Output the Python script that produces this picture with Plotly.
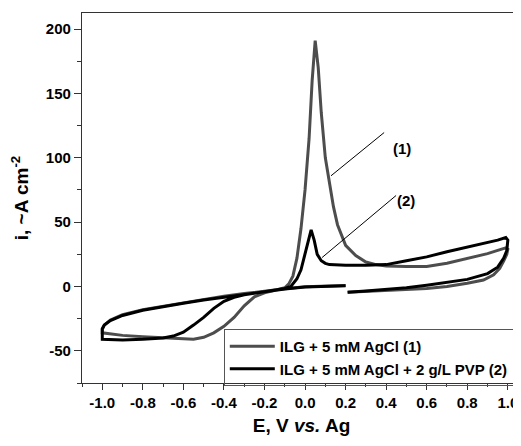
import plotly.graph_objects as go

# Curve (1): ILG + 5 mM AgCl  (potential E in V, current density i)
E1 = [0.20, 0.10, 0.0, -0.1, -0.2, -0.3, -0.4, -0.5, -0.6, -0.7, -0.8, -0.9, -0.96, -0.99, -1.0,
      -1.0, -0.95, -0.9, -0.8, -0.7, -0.6, -0.55, -0.5, -0.45, -0.4, -0.35, -0.3, -0.25, -0.2, -0.15,
      -0.1, -0.08, -0.06, -0.04, -0.02, 0.0, 0.02, 0.035, 0.05, 0.065, 0.08, 0.1, 0.12, 0.14, 0.16,
      0.2, 0.25, 0.3, 0.35, 0.4, 0.5, 0.6, 0.7, 0.8, 0.9, 0.95, 0.99, 1.0, 0.995, 0.98, 0.96, 0.93,
      0.88, 0.8, 0.7, 0.6, 0.5, 0.4, 0.3, 0.21]
I1 = [0.8, 0.3, -0.3, -1.8, -3.5, -5.5, -7.5, -10, -12.5, -15, -18, -22, -26, -30, -33,
      -36, -37, -38, -39, -40, -41, -41, -39.5, -36, -31, -24, -15, -8, -5, -3,
      -1, 2, 8, 22, 45, 75, 115, 160, 191, 170, 135, 100, 80, 62, 48,
      32, 24, 19, 17, 16, 15.5, 15.5, 18, 21.5, 25.5, 28, 30, 29, 25, 20, 14, 9,
      5, 2.5, 0, -1.5, -2.3, -3, -3.8, -4.5]

# Curve (2): ILG + 5 mM AgCl + 2 g/L PVP
E2 = [0.20, 0.10, 0.0, -0.1, -0.2, -0.3, -0.4, -0.5, -0.6, -0.7, -0.8, -0.9, -0.96, -0.99, -1.0,
      -1.0, -0.95, -0.9, -0.8, -0.7, -0.65, -0.6, -0.55, -0.5, -0.45, -0.4, -0.35, -0.3, -0.2, -0.15,
      -0.1, -0.07, -0.04, -0.02, 0.0, 0.015, 0.03, 0.045, 0.06, 0.08, 0.1, 0.12, 0.2, 0.3, 0.4,
      0.5, 0.6, 0.7, 0.8, 0.9, 0.95, 0.99, 1.0, 0.995, 0.98, 0.95, 0.9, 0.8, 0.7, 0.6, 0.5, 0.4, 0.3, 0.21]
I2 = [0.5, 0, -0.5, -2, -4, -6, -8, -10.5, -13, -15.5, -18.5, -22.5, -26.5, -30, -33,
      -41, -41.5, -41.5, -41, -40, -38.5, -35.5, -30, -24, -17, -11.5, -8.5, -6.5, -4, -2.8,
      -1.5, 0, 6, 13, 25, 36, 44, 36, 25, 20, 18, 17, 16.5, 16.5, 17,
      20, 23, 27, 30.5, 34, 36, 38, 36, 28, 22, 15, 10, 5.5, 3, 1, -1, -2.5, -3.5, -4.5]

NAMES = ["ILG + 5 mM AgCl (1)", "ILG + 5 mM AgCl + 2 g/L PVP (2)"]
X_TICKS = [-1.0, -0.8, -0.6, -0.4, -0.2, 0.0, 0.2, 0.4, 0.6, 0.8, 1.0]
X_LABELS = ["-1.0", "-0.8", "-0.6", "-0.4", "-0.2", "0.0", "0.2", "0.4", "0.6", "0.8", "1.0"]
Y_TICKS = [-50, 0, 50, 100, 150, 200]

# Leader lines for curve labels: (x0, y0, x1, y1) and label positions
LEAD1 = (0.128, 86, 0.39, 119.6)
LEAD2 = (0.084, 22.5, 0.449, 70.7)
LAB1 = (0.48, 107, "(1)")
LAB2 = (0.50, 67, "(2)")

FONT = "Liberation Sans, Arial, sans-serif"

fig = go.Figure()
fig.add_trace(go.Scatter(x=E1, y=I1, mode="lines", name="<b>%s</b>" % NAMES[0],
                         line=dict(color="#4d4d4d", width=3)))
fig.add_trace(go.Scatter(x=E2, y=I2, mode="lines", name="<b>%s</b>" % NAMES[1],
                         line=dict(color="#000000", width=3)))

for (x0, y0, x1, y1) in (LEAD1, LEAD2):
    fig.add_shape(type="line", x0=x0, y0=y0, x1=x1, y1=y1, xref="x", yref="y",
                  line=dict(color="black", width=1))
for (x, y, t) in (LAB1, LAB2):
    fig.add_annotation(x=x, y=y, text="<b>%s</b>" % t, showarrow=False,
                       font=dict(family=FONT, size=15, color="black"))

# The page body has an 8 px default margin, so the figure is sized to fill the
# remaining 513 x 438 area of the 521 x 446 window.
fig.update_layout(
    width=513, height=438,
    margin=dict(l=74, r=0, t=5, b=63, autoexpand=False),
    plot_bgcolor="white", paper_bgcolor="white",
    font=dict(family=FONT, color="black"),
    showlegend=True,
    legend=dict(x=0.323, y=0.146, xanchor="left", yanchor="top",
                bgcolor="rgba(255,255,255,0)", bordercolor="#555555", borderwidth=1,
                font=dict(family=FONT, size=15, color="black"),
                itemwidth=45, tracegroupgap=0, traceorder="normal"),
    xaxis=dict(range=[-1.1, 1.065], tickvals=X_TICKS, ticktext=["<b>%s</b>" % s for s in X_LABELS],
               ticks="outside", ticklen=6, tickwidth=1.3, tickcolor="#333",
               showline=True, linecolor="#333", linewidth=1.3, mirror=True,
               showgrid=False, zeroline=False, automargin=False,
               tickfont=dict(family=FONT, size=15, color="black"),
               minor=dict(dtick=0.1, tick0=0, ticks="outside", ticklen=3, tickcolor="#333", showgrid=False),
               title=dict(text="<b>E, V <i>vs.</i> Ag</b>", font=dict(family=FONT, size=19), standoff=8)),
    yaxis=dict(range=[-75, 212.5], tickvals=Y_TICKS, ticktext=["<b>%d</b>" % v for v in Y_TICKS],
               ticks="outside", ticklen=7, tickwidth=1.3, tickcolor="#333",
               showline=True, linecolor="#333", linewidth=1.3, mirror=False,
               showgrid=False, zeroline=False, automargin=False,
               tickfont=dict(family=FONT, size=15, color="black"),
               minor=dict(dtick=25, tick0=0, ticks="outside", ticklen=4, tickcolor="#333", showgrid=False),
               title=dict(text="<b>i, ~A cm<sup>-2</sup></b>", font=dict(family=FONT, size=19), standoff=12)),
)

fig.write_html("out.html")
